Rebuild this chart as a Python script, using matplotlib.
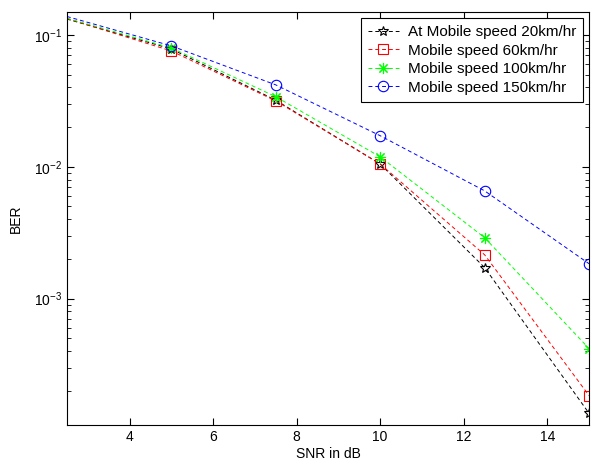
import matplotlib
matplotlib.use('Agg')
import matplotlib.pyplot as plt

plt.rcParams['font.family'] = ['Liberation Sans', 'DejaVu Sans']
plt.rcParams['mathtext.fontset'] = 'custom'
plt.rcParams['mathtext.rm'] = 'Liberation Sans'

snr = [2.5, 5, 7.5, 10, 12.5, 15]
ber_20 = [0.132, 0.0783, 0.0320, 0.0105, 0.00172, 0.000135]
ber_60 = [0.133, 0.0756, 0.0316, 0.0105, 0.00215, 0.000184]
ber_100 = [0.134, 0.0797, 0.0340, 0.0119, 0.00290, 0.000418]
ber_150 = [0.138, 0.0826, 0.0418, 0.0172, 0.00657, 0.00184]
labels = ['At Mobile speed 20km/hr', 'Mobile speed 60km/hr',
          'Mobile speed 100km/hr', 'Mobile speed 150km/hr']

fig = plt.figure(figsize=(5.92, 4.65), dpi=100)
ax = fig.add_axes([0.113, 0.086, 0.882, 0.888])

dash = (0, (4, 3))
# first point sits on the left edge, no marker drawn there
mk = slice(1, None)
ax.semilogy(snr, ber_20, color='k', linestyle=dash, lw=0.7, marker='*',
            mfc='none', ms=7, mew=0.8, markevery=mk, label=labels[0])
ax.semilogy(snr, ber_60, color='r', linestyle=dash, lw=0.7, marker='s',
            mfc='none', ms=7.5, mew=0.8, markevery=mk, label=labels[1])
ax.semilogy(snr, ber_100, color='#00ff00', linestyle=dash, lw=0.7,
            marker=(8, 2, 0), ms=8, mew=0.8, markevery=mk, label=labels[2])
ax.semilogy(snr, ber_150, color='b', linestyle=dash, lw=0.7, marker='o',
            mfc='none', ms=7.5, mew=0.8, markevery=mk, label=labels[3])

ax.set_xlim(2.5, 15)
ax.set_ylim(1.1e-4, 0.149)
ax.set_xticks([4, 6, 8, 10, 12, 14])
ax.tick_params(which='both', direction='in', top=True, right=True,
               labelsize=10)
ax.tick_params(which='major', length=5)
ax.tick_params(which='minor', length=3)
ax.set_xlabel('SNR in dB', fontsize=10, labelpad=2)
ax.set_ylabel('BER', fontsize=10, labelpad=8)

leg = ax.legend(loc='upper right', fontsize=11, fancybox=False,
                framealpha=1, edgecolor='k', handlelength=2.0,
                borderaxespad=0.4, labelspacing=0.3, handletextpad=0.6,
                borderpad=0.45)
leg.get_frame().set_linewidth(0.8)

fig.savefig('out.png', dpi=100)
